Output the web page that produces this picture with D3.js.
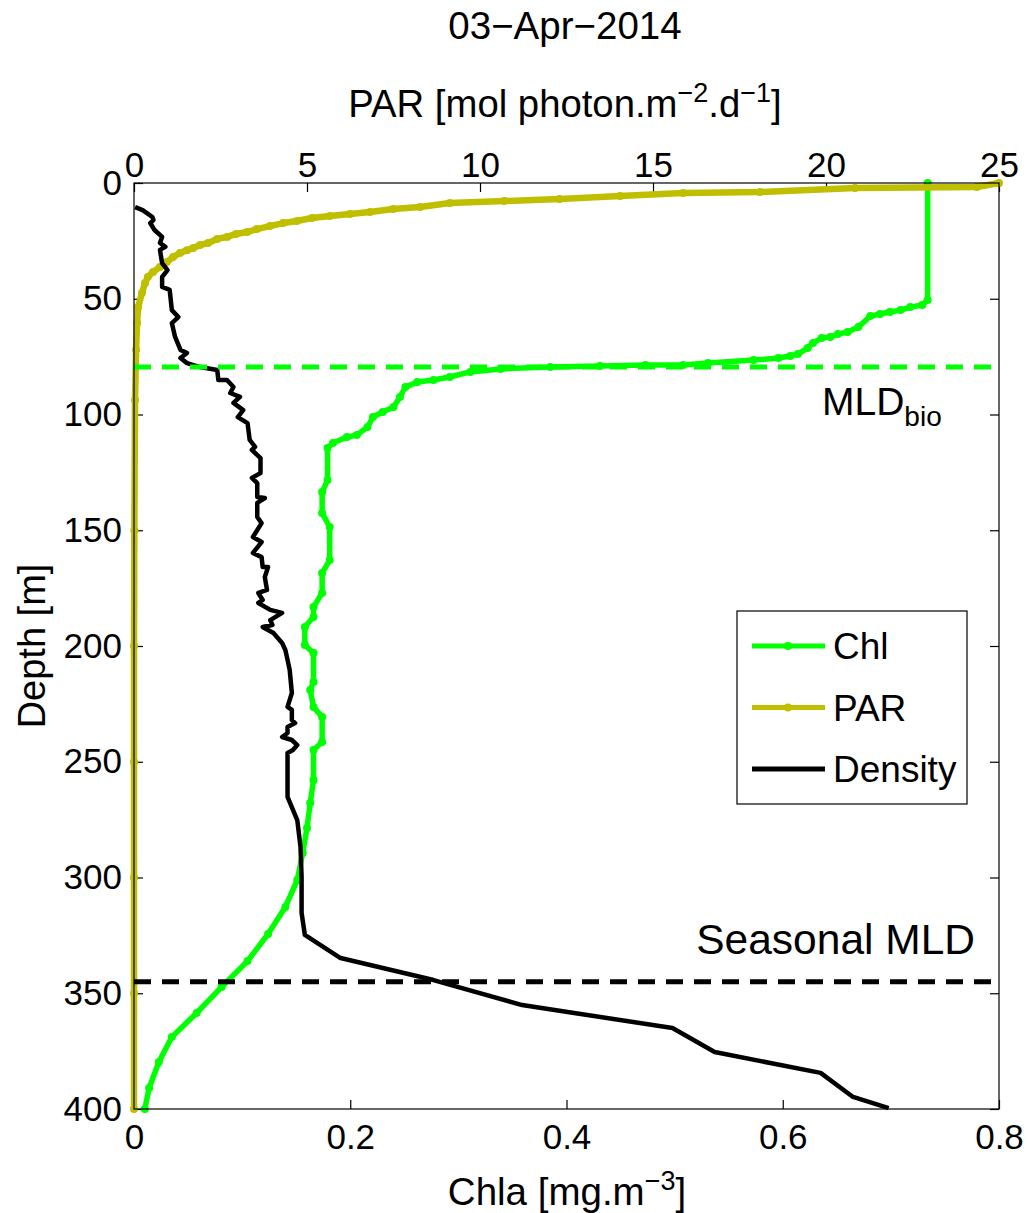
<!DOCTYPE html>
<html>
<head>
<meta charset="utf-8">
<script src="https://cdn.jsdelivr.net/npm/d3@7"></script>
<style>
  body { margin: 0; background: #fff; }
  text { font-family: "Liberation Sans", Arial, Helvetica, sans-serif; fill: #000; }
</style>
</head>
<body>
<div id="chart"></div>
<script>
// Chl profile (mg.m-3) vs depth (m)
const chlDepth = [0, 50.5, 52.7, 53.6, 54.9, 55.7, 56.6, 57.5, 62.2, 64.4, 65.2, 66.5, 67.0, 69.1, 71.3, 73.9, 74.7, 75.6, 76.5, 77.8, 78.6, 78.6, 79.0, 79.5, 80.3, 81.6, 83.8, 85.1, 86.0, 88.1, 92.4, 96.8, 98.9, 101.1, 105.4, 108.9, 109.7, 112.3, 114.5, 128.3, 133.5, 142.5, 148.6, 162.9, 168.5, 177.1, 183.2, 187.5, 191.8, 199.6, 203.0, 215.6, 219.0, 226.3, 230.7, 241.5, 244.9, 257.9, 267.8, 278.6, 289.4, 301.1, 312.7, 324.4, 336.1, 347.3, 358.5, 368.9, 379.7, 390.9, 400];
const chlValue = [0.734, 0.734, 0.729, 0.718, 0.709, 0.699, 0.690, 0.681, 0.670, 0.660, 0.651, 0.644, 0.636, 0.628, 0.623, 0.614, 0.607, 0.596, 0.573, 0.531, 0.508, 0.473, 0.431, 0.385, 0.339, 0.311, 0.292, 0.277, 0.262, 0.251, 0.246, 0.240, 0.230, 0.221, 0.216, 0.206, 0.197, 0.184, 0.179, 0.179, 0.174, 0.174, 0.181, 0.181, 0.174, 0.174, 0.166, 0.166, 0.158, 0.158, 0.166, 0.166, 0.163, 0.166, 0.174, 0.174, 0.166, 0.166, 0.163, 0.160, 0.156, 0.151, 0.140, 0.124, 0.105, 0.081, 0.058, 0.035, 0.023, 0.014, 0.010];

// PAR profile (mol photon.m-2.d-1) vs depth (m)
const parDepth = [0, 1.7, 2.2, 3.9, 4.3, 5.6, 6.9, 7.8, 8.6, 10.4, 11.2, 12.5, 13.4, 14.3, 15.1, 16.4, 17.3, 18.6, 19.9, 21.2, 22.0, 23.3, 24.2, 25.9, 26.8, 28.1, 29.0, 30.2, 32.0, 34.1, 36.3, 38.4, 40.6, 43.2, 47.5, 53.6, 60.5, 72, 93.7, 150, 200, 250, 300, 350, 400];
const parValue = [25.0, 24.36, 20.84, 18.09, 15.87, 14.05, 12.3, 10.7, 9.13, 8.27, 7.49, 6.82, 6.24, 5.66, 5.14, 4.71, 4.31, 3.93, 3.55, 3.27, 2.95, 2.69, 2.40, 2.14, 1.91, 1.71, 1.53, 1.33, 1.13, 0.95, 0.75, 0.55, 0.40, 0.32, 0.23, 0.12, 0.09, 0.06, 0.03, 0.01, 0, 0, 0, 0, 0];

// Density profile, drawn on the Chla axis scale (no own axis shown)
const densDepth = [10.4, 11.7, 14.7, 16.0, 17.3, 20.3, 23.3, 25.9, 27.6, 28.9, 34.6, 37.6, 40.6, 44.9, 46.2, 54.9, 57.9, 60.5, 66.5, 72.1, 73.4, 75.6, 77.8, 79.5, 80.8, 85.1, 85.1, 88.1, 90.7, 92.4, 95.0, 98.1, 101.1, 103.7, 111.0, 114.0, 115.3, 118.8, 125.3, 127.4, 129.6, 135.6, 136.1, 138.2, 144.3, 146.9, 152.9, 155.1, 159.8, 161.6, 165.9, 165.9, 170.2, 175.8, 177.1, 180.1, 181.4, 184.4, 185.7, 188.8, 190.9, 191.8, 194.4, 198.7, 201.7, 206.0, 210.4, 220.3, 226.3, 227.6, 232.0, 233.3, 235.0, 237.6, 239.3, 240.6, 242.8, 244.9, 246.2, 248.0, 265.2, 275.2, 286.8, 299.8, 315.3, 324.8, 334.8, 344.3, 355.1, 358.1, 365.0, 375.4, 384.4, 394.8, 399.6];
const densValue = [0.001, 0.008, 0.017, 0.018, 0.015, 0.019, 0.026, 0.024, 0.029, 0.024, 0.026, 0.031, 0.026, 0.026, 0.033, 0.035, 0.041, 0.035, 0.038, 0.043, 0.049, 0.043, 0.049, 0.061, 0.077, 0.078, 0.086, 0.092, 0.089, 0.098, 0.092, 0.101, 0.096, 0.105, 0.107, 0.112, 0.109, 0.117, 0.117, 0.109, 0.114, 0.114, 0.121, 0.114, 0.114, 0.118, 0.110, 0.118, 0.110, 0.118, 0.119, 0.124, 0.121, 0.123, 0.115, 0.119, 0.115, 0.126, 0.137, 0.126, 0.128, 0.119, 0.129, 0.137, 0.140, 0.142, 0.144, 0.146, 0.142, 0.146, 0.146, 0.149, 0.142, 0.142, 0.137, 0.146, 0.151, 0.147, 0.142, 0.142, 0.142, 0.151, 0.154, 0.155, 0.155, 0.158, 0.191, 0.277, 0.359, 0.401, 0.498, 0.537, 0.635, 0.665, 0.698];

// Mixed layer depths (m)
const mldBio = 79.5;
const mldSeasonal = 345;

// Ticks
const depthTicks = [0, 50, 100, 150, 200, 250, 300, 350, 400];
const chlTicks = [0, 0.2, 0.4, 0.6, 0.8];
const parTicks = [0, 5, 10, 15, 20, 25];

const legendItems = ["Chl", "PAR", "Density"];

const W = 1028, H = 1213;
const m = { left: 134, right: 999, top: 183, bottom: 1109 };
const green = "#00ff00", olive = "#bfbf00";

const svg = d3.select("#chart").append("svg")
    .attr("width", W)
    .attr("height", H);

const y = d3.scaleLinear().domain([0, 400]).range([m.top, m.bottom]);
const xChl = d3.scaleLinear().domain([0, 0.8]).range([m.left, m.right]);
const xPar = d3.scaleLinear().domain([0, 25]).range([m.left, m.right]);

const chlData = chlDepth.map((d, i) => ({ d, v: chlValue[i] }));
const parData = parDepth.map((d, i) => ({ d, v: parValue[i] }));
const densData = densDepth.map((d, i) => ({ d, v: densValue[i] }));

// Axes (ticks pointing inward)
function styleAxis(g) {
    g.select(".domain").remove();
    g.selectAll(".tick line").attr("stroke", "#000").attr("stroke-width", 1.2);
    g.selectAll(".tick text").style("font-size", "35px");
}

svg.append("g")
    .attr("transform", `translate(${m.left},0)`)
    .call(d3.axisLeft(y).tickValues(depthTicks).tickSize(-9).tickPadding(12))
    .call(styleAxis);

svg.append("g")
    .attr("transform", `translate(${m.right},0)`)
    .call(d3.axisRight(y).tickValues(depthTicks).tickSize(-9).tickFormat(""))
    .call(styleAxis);

svg.append("g")
    .attr("transform", `translate(0,${m.bottom})`)
    .call(d3.axisBottom(xChl).tickValues(chlTicks).tickSize(-9).tickPadding(15).tickFormat(d => String(d)))
    .call(styleAxis);

svg.append("g")
    .attr("transform", `translate(0,${m.top})`)
    .call(d3.axisTop(xPar).tickValues(parTicks).tickSize(-9).tickPadding(6))
    .call(styleAxis);

// Lines
const chlLine = d3.line().x(p => xChl(p.v)).y(p => y(p.d));
const parLine = d3.line().x(p => xPar(p.v)).y(p => y(p.d));

const plot = svg.append("g");

plot.append("path").datum(chlData)
    .attr("d", chlLine)
    .attr("fill", "none").attr("stroke", green)
    .attr("stroke-width", 5.5).attr("stroke-linejoin", "round");
plot.selectAll(".chl-dot").data(chlData).enter().append("circle")
    .attr("cx", p => xChl(p.v)).attr("cy", p => y(p.d))
    .attr("r", 4).attr("fill", green);

plot.append("path").datum(parData)
    .attr("d", parLine)
    .attr("fill", "none").attr("stroke", olive)
    .attr("stroke-width", 6.5).attr("stroke-linejoin", "round");
plot.selectAll(".par-dot").data(parData).enter().append("circle")
    .attr("cx", p => xPar(p.v)).attr("cy", p => y(p.d))
    .attr("r", 4).attr("fill", olive);

plot.append("path").datum(densData)
    .attr("d", chlLine)
    .attr("fill", "none").attr("stroke", "#000")
    .attr("stroke-width", 4.5).attr("stroke-linejoin", "round");

// Mixed layer lines
plot.append("line")
    .attr("x1", m.left).attr("x2", m.right)
    .attr("y1", y(mldBio)).attr("y2", y(mldBio))
    .attr("stroke", green).attr("stroke-width", 5)
    .attr("stroke-dasharray", "17,11");

plot.append("line")
    .attr("x1", m.left).attr("x2", m.right)
    .attr("y1", y(mldSeasonal)).attr("y2", y(mldSeasonal))
    .attr("stroke", "#000").attr("stroke-width", 5)
    .attr("stroke-dasharray", "17,11");

// Frame
svg.append("rect")
    .attr("x", m.left).attr("y", m.top)
    .attr("width", m.right - m.left).attr("height", m.bottom - m.top)
    .attr("fill", "none").attr("stroke", "#000").attr("stroke-width", 1.2);

// Annotations
const mldText = svg.append("text")
    .attr("x", 822).attr("y", 415)
    .style("font-size", "39px");
mldText.append("tspan").text("MLD");
mldText.append("tspan").attr("dy", 11).style("font-size", "28px").text("bio");

svg.append("text")
    .attr("x", 975).attr("y", 954)
    .attr("text-anchor", "end")
    .style("font-size", "42.5px")
    .text("Seasonal MLD");

// Titles and axis labels
svg.append("text")
    .attr("x", 565).attr("y", 39)
    .attr("text-anchor", "middle")
    .style("font-size", "38.5px")
    .text("03\u2212Apr\u22122014");

const parLabel = svg.append("text")
    .attr("x", 565).attr("y", 117)
    .attr("text-anchor", "middle")
    .style("font-size", "38.3px");
parLabel.append("tspan").text("PAR [mol photon.m");
parLabel.append("tspan").attr("dy", -15).style("font-size", "27px").text("\u22122");
parLabel.append("tspan").attr("dy", 15).text(".d");
parLabel.append("tspan").attr("dy", -15).style("font-size", "27px").text("\u22121");
parLabel.append("tspan").attr("dy", 15).text("]");

const chlLabel = svg.append("text")
    .attr("x", 567).attr("y", 1205)
    .attr("text-anchor", "middle")
    .style("font-size", "38.5px");
chlLabel.append("tspan").text("Chla [mg.m");
chlLabel.append("tspan").attr("dy", -15).style("font-size", "27px").text("\u22123");
chlLabel.append("tspan").attr("dy", 15).text("]");

svg.append("text")
    .attr("transform", `translate(45,${(m.top + m.bottom) / 2}) rotate(-90)`)
    .attr("text-anchor", "middle")
    .style("font-size", "38px")
    .text("Depth [m]");

// Legend
const legend = svg.append("g");
legend.append("rect")
    .attr("x", 737).attr("y", 611)
    .attr("width", 230).attr("height", 193)
    .attr("fill", "#fff").attr("stroke", "#000").attr("stroke-width", 1.2);

const legendColors = [green, olive, "#000"];
legendItems.forEach((name, i) => {
    const ly = 646 + i * 61.5;
    legend.append("line")
        .attr("x1", 752).attr("x2", 825)
        .attr("y1", ly).attr("y2", ly)
        .attr("stroke", legendColors[i]).attr("stroke-width", 5);
    if (i < 2) {
        legend.append("circle")
            .attr("cx", 788).attr("cy", ly).attr("r", 4)
            .attr("fill", legendColors[i]);
    }
    legend.append("text")
        .attr("x", 833).attr("y", ly + 13)
        .style("font-size", "37px")
        .text(name);
});
</script>
</body>
</html>
